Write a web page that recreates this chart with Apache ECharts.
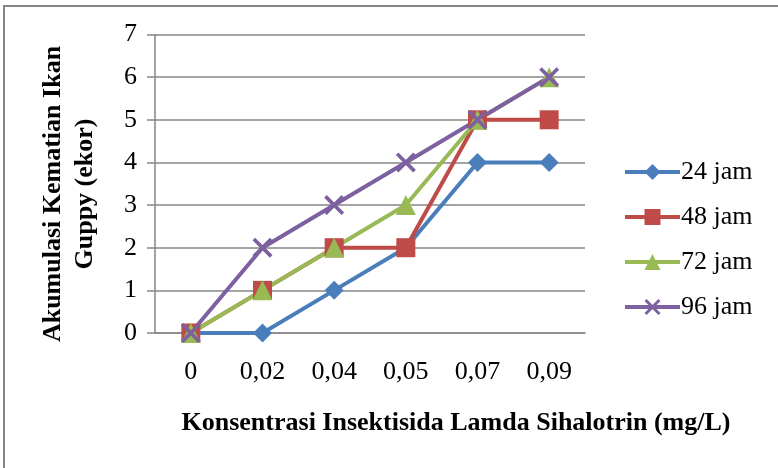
<!DOCTYPE html>
<html>
<head>
<meta charset="utf-8">
<script src="https://cdn.jsdelivr.net/npm/echarts@6/dist/echarts.min.js"></script>
<style>
  html, body { margin: 0; padding: 0; background: #fff; }
  #chart { width: 778px; height: 468px; }
</style>
</head>
<body>
<div id="chart"></div>
<script>
// kategori konsentrasi (mg/L)
var categories = ['0', '0,02', '0,04', '0,05', '0,07', '0,09'];
var seriesNames = ['24 jam', '48 jam', '72 jam', '96 jam'];
// akumulasi kematian
var jam24 = [0, 0, 1, 2, 4, 4];
var jam48 = [0, 1, 2, 2, 5, 5];
var jam72 = [0, 1, 2, 3, 5, 6];
var jam96 = [0, 2, 3, 4, 5, 6];
var yTicks = [0, 7, 1]; // min, max, interval

var font = 'Liberation Serif, Times New Roman, serif';
var gridColor = '#868686';
var crossPath = 'path://M0,1.3L1.3,0L10,8.7L8.7,10Z M8.7,0L10,1.3L1.3,10L0,8.7Z';

function makeSeries(name, data, color, symbol, size) {
    return {
        name: name,
        type: 'line',
        data: data,
        symbol: symbol,
        symbolSize: size,
        lineStyle: { color: color, width: 4 },
        itemStyle: { color: color },
        emphasis: { disabled: true },
        animation: false
    };
}

var myChart = echarts.init(document.getElementById('chart'));
var option = {
    animation: false,
    grid: { left: 155, right: 193, top: 34.5, bottom: 135 },
    legend: {
        orient: 'vertical',
        left: 618,
        top: 154,
        itemWidth: 55,
        itemHeight: 20,
        itemGap: 19,
        lineStyle: { width: 4 },
        textStyle: { fontFamily: font, fontSize: 26, color: '#000', padding: [0, 0, 0, -4] },
        data: seriesNames
    },
    xAxis: {
        type: 'category',
        data: categories,
        boundaryGap: true,
        axisLine: { lineStyle: { color: gridColor, width: 1.5 } },
        axisTick: { show: false },
        axisLabel: { margin: 26, fontFamily: font, fontSize: 26, color: '#000' }
    },
    yAxis: {
        type: 'value',
        min: yTicks[0],
        max: yTicks[1],
        interval: yTicks[2],
        axisLine: { show: true, lineStyle: { color: gridColor, width: 1.5 } },
        axisTick: { show: true, length: 8, lineStyle: { color: gridColor, width: 1.5 } },
        splitLine: { lineStyle: { color: gridColor, width: 1.5 } },
        axisLabel: { margin: 18, fontFamily: font, fontSize: 26, color: '#000' }
    },
    graphic: [
        {
            type: 'rect',
            shape: { x: 4, y: 6, width: 800, height: 500 },
            style: { fill: 'none', stroke: gridColor, lineWidth: 2 },
            silent: true
        },
        {
            type: 'text',
            x: 456, y: 423,
            style: {
                text: 'Konsentrasi Insektisida Lamda Sihalotrin (mg/L)',
                font: 'bold 26px ' + font,
                fill: '#000',
                align: 'center',
                verticalAlign: 'middle'
            }
        },
        {
            type: 'text',
            x: 69, y: 194,
            rotation: Math.PI / 2,
            style: {
                text: 'Akumulasi Kematian Ikan\nGuppy (ekor)',
                font: 'bold 26px ' + font,
                lineHeight: 32,
                fill: '#000',
                align: 'center',
                verticalAlign: 'middle'
            }
        }
    ],
    series: [
        makeSeries(seriesNames[0], jam24, '#4a7ebb', 'diamond', 19),
        makeSeries(seriesNames[1], jam48, '#be4b48', 'rect', 19),
        makeSeries(seriesNames[2], jam72, '#98b954', 'triangle', 20),
        makeSeries(seriesNames[3], jam96, '#7d60a0', crossPath, 20)
    ]
};
myChart.setOption(option);
</script>
</body>
</html>
